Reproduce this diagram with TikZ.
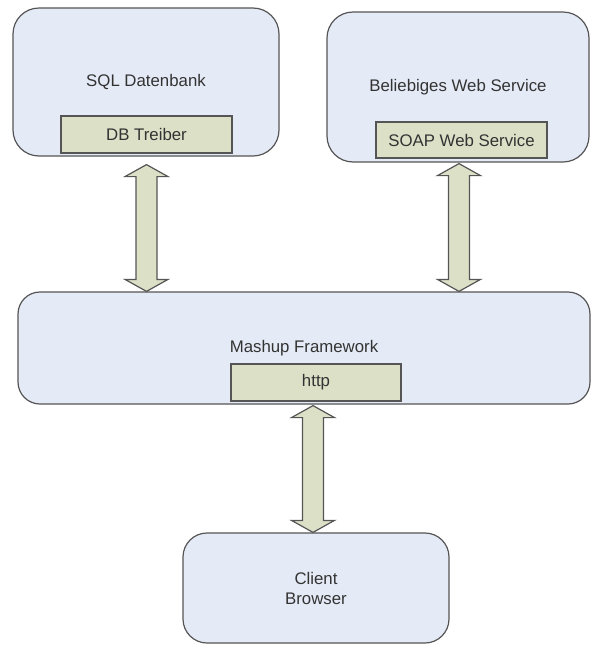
\documentclass[tikz,border=0pt]{standalone}
\usepackage{fontspec}
\setmainfont{Liberation Sans}
\usetikzlibrary{calc}
\definecolor{boxfill}{HTML}{E5EBF6}
\definecolor{partfill}{HTML}{DCE0C7}
\definecolor{edge}{HTML}{555555}
\definecolor{ink}{HTML}{333333}
\tikzset{
  system/.style={draw=edge, line width=1.2pt, fill=boxfill, rounded corners=#1,
    inner sep=0pt, text=ink, font=\fontsize{16.8}{20}\selectfont, align=center},
  system/.default=26pt,
  part/.style={draw=edge, line width=1.2pt, fill=partfill, inner sep=0pt,
    text=ink, font=\fontsize{16.8}{20}\selectfont},
  arrowbody/.style={draw=edge, line width=1.2pt, fill=partfill, line join=miter}
}
% vertical two-headed block arrow; #1 = top tip, #2 = bottom tip
\newcommand{\blockarrow}[2]{%
  \path[arrowbody] let \p1=(#1), \p2=(#2) in
    (\x1,\y1) -- (\x1+21.5pt,\y1-12pt) -- (\x1+10.5pt,\y1-12pt)
    -- (\x1+10.5pt,\y2+12pt) -- (\x1+21.5pt,\y2+12pt) -- (\x1,\y2)
    -- (\x1-21.5pt,\y2+12pt) -- (\x1-10.5pt,\y2+12pt)
    -- (\x1-10.5pt,\y1-12pt) -- (\x1-21.5pt,\y1-12pt) -- cycle;}
\begin{document}
\begin{tikzpicture}[x=1pt,y=-1pt]
  \useasboundingbox (0,0) rectangle (592,646);

  % data sources
  \node[system, minimum width=266pt, minimum height=148pt] (sql) at (146,82) {SQL Datenbank};
  \node[part, minimum width=171pt, minimum height=37pt] (drv) at (146.5,134.5) {DB Treiber};
  \node[system, minimum width=262pt, minimum height=150pt] (web) at (458,87) {Beliebiges Web Service};
  \node[part, minimum width=171pt, minimum height=36pt] (soap) at (461.5,140) {SOAP Web Service};

  % framework
  \node[system=22pt, minimum width=572pt, minimum height=112pt] (mash) at (304,348) {Mashup Framework};
  \node[part, minimum width=170pt, minimum height=37pt] (http) at (316,382.5) {http};

  % client
  \node[system=24pt, minimum width=266pt, minimum height=110pt] (client) at (316,588) {Client\\Browser};

  % links (y grows downwards here)
  \coordinate (t1) at ($(drv.south)+(0,11)$);
  \coordinate (b1) at (t1 |- mash.north);
  \blockarrow{t1}{b1}
  \coordinate (t2) at ($(web.south)+(1,1)$);
  \coordinate (b2) at (t2 |- mash.north);
  \blockarrow{t2}{b2}
  \coordinate (t3) at ($(http.south)+(-3,4)$);
  \coordinate (b3) at (t3 |- client.north);
  \blockarrow{t3}{b3}
\end{tikzpicture}
\end{document}
